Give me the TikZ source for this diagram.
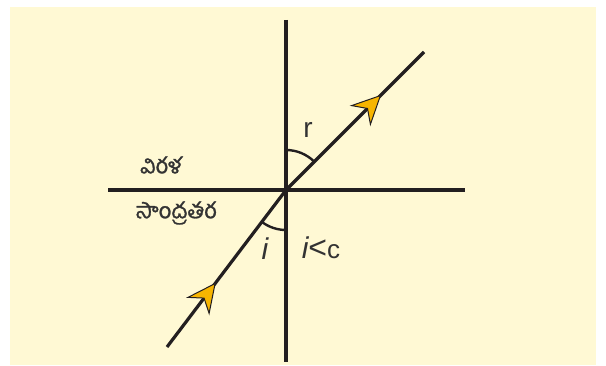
\documentclass[tikz,border=0pt]{standalone}
\usepackage{fontspec}
\setmainfont{Liberation Sans}
\newfontfamily\telugufont[Script=Telugu, FakeBold=1.2]{Hind Guntur}
\usetikzlibrary{arrows.meta, decorations.markings, calc}
\definecolor{papercolor}{HTML}{FFF9D4}
\definecolor{inkcolor}{HTML}{231F20}
\definecolor{arrowyellow}{HTML}{F7B500}
\definecolor{textcolor}{HTML}{333333}

\begin{document}
\begin{tikzpicture}[
    x=1pt, y=1pt,
    axisline/.style={draw=inkcolor, line width=3.2pt},
    rayline/.style={draw=inkcolor, line width=3.2pt},
    anglearc/.style={draw=inkcolor, line width=2.4pt},
    raytip/.style={decoration={markings, mark=at position #1 with {\arrow{Stealth[length=30pt, width=29pt, inset=10pt, fill=arrowyellow, color=inkcolor, line width=1pt]}}}, postaction={decorate}},
    lbl/.style={text=textcolor, font=\fontsize{26}{28}\selectfont, inner sep=0pt},
    tlbl/.style={text=textcolor, font=\telugufont\fontsize{22}{24}\selectfont, inner sep=0pt},
]
    % ── Frame ──
    \useasboundingbox (0,0) rectangle (606,365);
    \fill[papercolor] (10,0) rectangle (596,358);

    % ── Coordinates ──
    \coordinate (O)   at (286,175);
    \coordinate (top) at (286,345);
    \coordinate (bot) at (286,3);
    \coordinate (lft) at (108,175);
    \coordinate (rgt) at (465,175);
    \coordinate (src) at (167,18);
    \coordinate (dst) at (424,313);

    % ── Normal and interface ──
    \draw[axisline] (top) -- (bot);
    \draw[axisline] (lft) -- (rgt);

    % ── Ray: incident and refracted ──
    \draw[rayline, raytip=0.41] (src) -- (O);
    \draw[rayline, raytip=0.69] (O) -- (dst);

    % Angle arcs
    \draw[anglearc] ($(O)+(90:40)$) arc[start angle=90, end angle=45, radius=40];
    \draw[anglearc] ($(O)+(232.8:40)$) arc[start angle=232.8, end angle=270, radius=40];

    % ── Labels ──
    \node[lbl] (rlab) at (308,235) {\fontsize{28}{30}\selectfont r};
    \node[lbl] (ilab) at (265,116) {\fontsize{30}{32}\selectfont\itshape i};
    \node[lbl] (clab) at (321,117) {{\fontsize{30}{32}\selectfont\itshape i}{\fontsize{32}{34}\selectfont <}c};
    \node[tlbl] (rare)  at (161,200) {విరళ};
    \node[tlbl] (dense) at (176,152) {సాంద్రతర};

\end{tikzpicture}
\end{document}
